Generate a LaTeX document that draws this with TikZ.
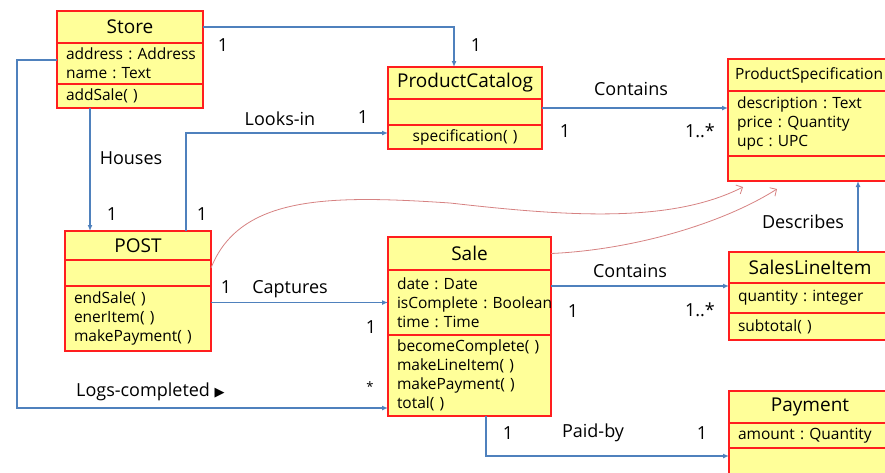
\documentclass[tikz,border=0pt]{standalone}
\usepackage{fontspec}
\setmainfont{Open Sans}
\newfontfamily\symfont{DejaVu Sans}
\usetikzlibrary{positioning,arrows.meta}
\definecolor{boxyellow}{RGB}{255,255,153}
\definecolor{boxred}{RGB}{255,30,30}
\definecolor{linkblue}{RGB}{79,129,189}
\definecolor{deppink}{RGB}{214,130,130}
\frenchspacing
\begin{document}
\begin{tikzpicture}[x=1pt,y=-1pt]
% Estilos
\tikzstyle{classname} = [rectangle, draw=boxred, fill=boxyellow, line width=1.2pt, outer sep=0pt, inner sep=0pt, font=\fontsize{19}{21}\selectfont]
\tikzstyle{classpart} = [rectangle, draw=boxred, fill=boxyellow, line width=1.2pt, outer sep=0pt, inner xsep=9pt, inner ysep=0pt, align=left, font=\fontsize{15.5}{19}\selectfont]
\tikzstyle{assoc} = [line width=1.6pt, linkblue, -{Latex[length=6pt,width=5pt]}]
\tikzstyle{dep} = [line width=0.8pt, deppink, -{Straight Barb[length=5pt,width=10pt]}]
\tikzstyle{lbl} = [font=\fontsize{18}{18}\selectfont, inner sep=0pt]

\clip (0,0) rectangle (885,472);

% Store
\node[classname, minimum width=146pt, minimum height=32pt, anchor=north west] (storeT) at (57,11) {Store};
\node[classpart, text width=128pt, minimum height=41pt, below=0pt of storeT] (storeA) {\mbox{address : Address}\\name : Text};
\node[classpart, text width=128pt, minimum height=24pt, below=0pt of storeA] (storeO) {addSale( )};

% ProductCatalog
\node[classname, minimum width=154pt, minimum height=32pt, anchor=north west] (catT) at (388,67) {ProductCatalog};
\node[classpart, text width=136pt, minimum height=26pt, below=0pt of catT] (catA) {};
\node[classpart, text width=136pt, minimum height=24pt, align=center, below=0pt of catA] (catO) {specification( )};

% ProductSpecification
\node[classname, minimum width=162pt, minimum height=32pt, anchor=north west, font=\fontsize{15.5}{17}\selectfont] (specT) at (728,59) {ProductSpecification};
\node[classpart, text width=144pt, minimum height=65pt, below=0pt of specT] (specA) {description : Text\\price : Quantity\\upc : UPC};
\node[classpart, text width=144pt, minimum height=25pt, below=0pt of specA] (specO) {};

% POST
\node[classname, minimum width=146pt, minimum height=29pt, anchor=north west] (postT) at (65,231) {POST};
\node[classpart, text width=128pt, minimum height=26pt, below=0pt of postT] (postA) {};
\node[classpart, text width=128pt, minimum height=65pt, below=0pt of postA] (postO) {endSale( )\\enerItem( )\\makePayment( )};

% Sale
\node[classname, minimum width=163pt, minimum height=33pt, anchor=north west] (saleT) at (388,237) {Sale};
\node[classpart, text width=145pt, minimum height=65pt, below=0pt of saleT] (saleA) {date : Date\\\mbox{isComplete : Boolean}\\time : Time};
\node[classpart, text width=145pt, minimum height=81pt, below=0pt of saleA] (saleO) {becomeComplete( )\\makeLineItem( )\\makePayment( )\\total( )};

% SalesLineItem
\node[classname, minimum width=162pt, minimum height=31pt, anchor=north west] (sliT) at (729,252) {SalesLineItem};
\node[classpart, text width=144pt, minimum height=30pt, below=0pt of sliT] (sliA) {quantity : integer};
\node[classpart, text width=144pt, minimum height=27pt, below=0pt of sliA] (sliO) {subtotal( )};

% Payment
\node[classname, minimum width=162pt, minimum height=32pt, anchor=north west] (payT) at (729,391) {Payment};
\node[classpart, text width=144pt, minimum height=25pt, below=0pt of payT] (payA) {amount : Quantity};
\node[classpart, text width=144pt, minimum height=40pt, below=0pt of payA] (payO) {};

% Asociaciones
\draw[assoc] (storeT.east) -| ([xshift=-11pt]catT.north);
\draw[assoc] ([xshift=-40pt]storeO.south) -- ([xshift=-40pt]storeO.south |- postT.north);
\draw[assoc] ([xshift=48pt]postT.north) |- ([yshift=4pt]catO.west);
\draw[assoc] ([yshift=4pt]catA.east) -- ([yshift=4pt]catA.east -| specA.west);
\draw[assoc] (postO.east |- saleA.west) -- (saleA.west);
\draw[assoc] ([yshift=16.5pt]saleA.east) -- ([yshift=16.5pt]saleA.east -| sliA.west);
\draw[assoc] ([xshift=48pt]sliT.north) -- ([xshift=48pt]sliT.north |- specO.south);
\coordinate (logsbend) at (17,408);
\draw[assoc] ([yshift=3.5pt]storeA.west) -| (logsbend) -- (logsbend -| saleO.west);
\draw[assoc] ([xshift=16.5pt]saleO.south) |- ([yshift=12pt]payO.west);

% Dependencias
\draw[dep] ([yshift=5pt]postA.east) .. controls (240,195) and (330,195) .. (450,203)
  .. controls (565,216) and (670,224) .. ([xshift=-66pt,yshift=-6pt]specO.south);
\draw[dep] (saleT.east) .. controls (630,250) and (720,225) .. ([xshift=-32pt,yshift=-8pt]specO.south);

% Etiquetas
\node[lbl] (mStoreA) at (223,45) {1};
\node[lbl] (mCatA) at (476,45) {1};
\node[lbl] (lHouses) at (131,158) {Houses};
\node[lbl] (mPostA) at (112,214) {1};
\node[lbl] (lLooks) at (280,119) {Looks-in};
\node[lbl] (mCatB) at (363,117) {1};
\node[lbl] (mPostB) at (202,214) {1};
\node[lbl] (lContainsA) at (631,89) {Contains};
\node[lbl] (mCatC) at (565,131) {1};
\node[lbl] (mSpecA) at (700,131) {1..*};
\node[lbl] (lDescribes) at (803,222) {Describes};
\node[lbl] (mPostC) at (226,287) {1};
\node[lbl] (lCaptures) at (290,289) {Captures};
\node[lbl] (mSaleA) at (371,327) {1};
\node[lbl] (lContainsB) at (630,271) {Contains};
\node[lbl] (mSaleB) at (573,311) {1};
\node[lbl] (mSliA) at (700,310) {1..*};
\node[lbl, anchor=west] (lLogs) at (76,392) {Logs-completed {\symfont\fontsize{13}{13}\selectfont ▶}};
\node[lbl, font=\fontsize{13}{13}\selectfont] (mSaleC) at (370,387) {*};
\node[lbl] (mSaleD) at (508,433) {1};
\node[lbl] (lPaid) at (593,433) {Paid-by};
\node[lbl] (mPayA) at (702,433) {1};
\end{tikzpicture}
\end{document}
